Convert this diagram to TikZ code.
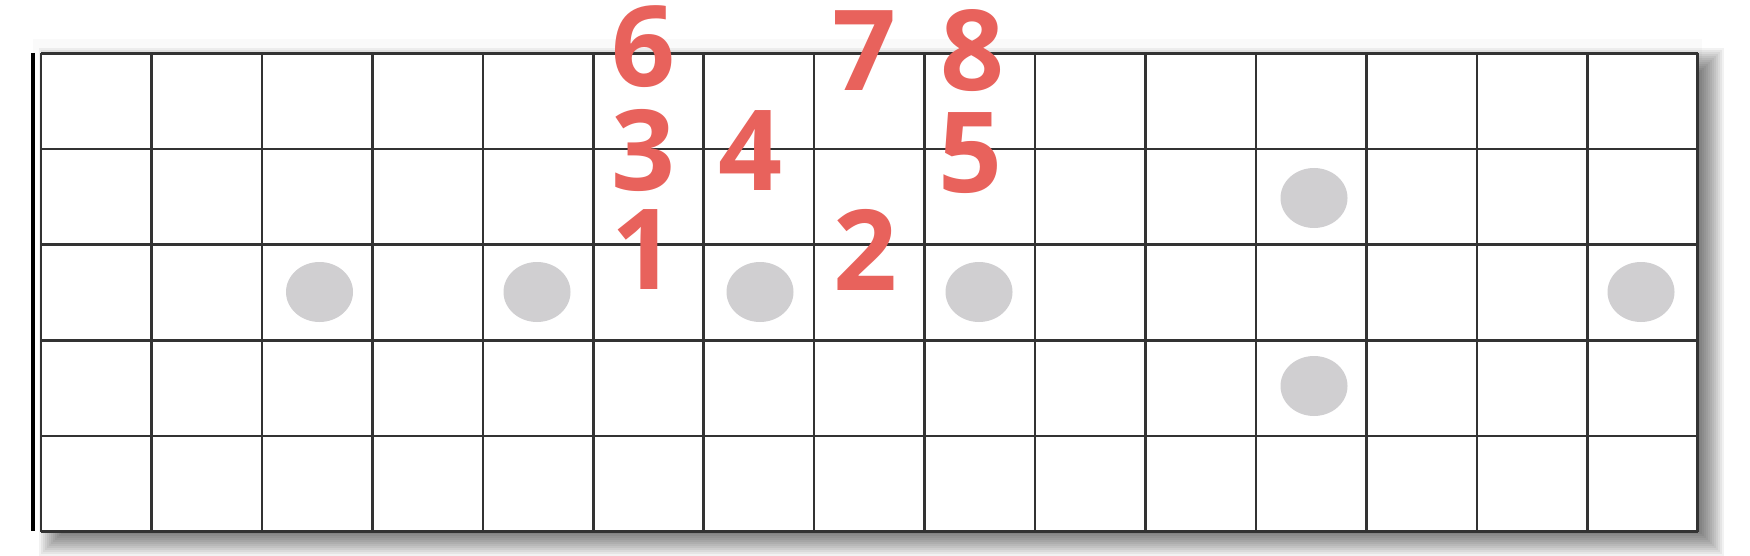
\documentclass[tikz,border=0pt]{standalone}
\usepackage{fontspec}
\usetikzlibrary{shapes.geometric}
\newfontfamily\numfont{Open Sans}
\definecolor{numred}{HTML}{E8625C}
\definecolor{dotgray}{HTML}{D0CFD1}
\definecolor{gridline}{HTML}{333333}
\begin{document}
\begin{tikzpicture}[x=1pt,y=-1pt,
  gridstroke/.style={draw=gridline,line width=2.6pt},
  nutstroke/.style={draw=black,line width=4pt},
  fretdot/.style={ellipse,fill=dotgray,minimum width=67pt,minimum height=60pt,inner sep=0pt},
  degree/.style={text=numred,inner sep=0pt,font=\numfont\bfseries\fontsize{112}{112}\selectfont}]
\useasboundingbox (0,0) rectangle (1750,556);
\fill[white] (0,0) rectangle (1750,556);
% soft drop shadow
\foreach \e in {-14,-12,...,14}{
  \fill[black,opacity=0.05] (41+12-\e,53.5+9-\e) rectangle (1697.7+12+\e,531.7+10+\e);
}
\fill[black,opacity=0.02] (41-8,53.5-14) rectangle (1697.7+4,60);
\fill[white] (41,53.5) rectangle (1697.7,531.7);
% frets
\foreach \i in {0,...,15}{
  \draw[gridstroke] (41+\i*110.45,53.5) -- (41+\i*110.45,531.7);
}
% strings
\foreach \j in {0,...,5}{
  \draw[gridstroke] (41,53.5+\j*95.64) -- (1697.7,53.5+\j*95.64);
}
% nut
\draw[nutstroke] (33,53) -- (33,531);
% inlay dots
\node[fretdot] (d3)  at (319.5,292) {};
\node[fretdot] (d5)  at (537,292) {};
\node[fretdot] (d7)  at (760,292) {};
\node[fretdot] (d9)  at (979,292) {};
\node[fretdot] (d12a) at (1314,198) {};
\node[fretdot] (d12b) at (1314,386) {};
\node[fretdot] (d15) at (1641,292) {};
% scale degrees
\node[degree] (n6) at (643,47) {6};
\node[degree] (n3) at (643,150) {3};
\node[degree] (n1) at (643,250) {1};
\node[degree] (n4) at (750,151) {4};
\node[degree] (n7) at (864,51) {7};
\node[degree] (n2) at (865,250) {2};
\node[degree] (n8) at (972,51) {8};
\node[degree] (n5) at (970,153) {5};
\end{tikzpicture}
\end{document}
